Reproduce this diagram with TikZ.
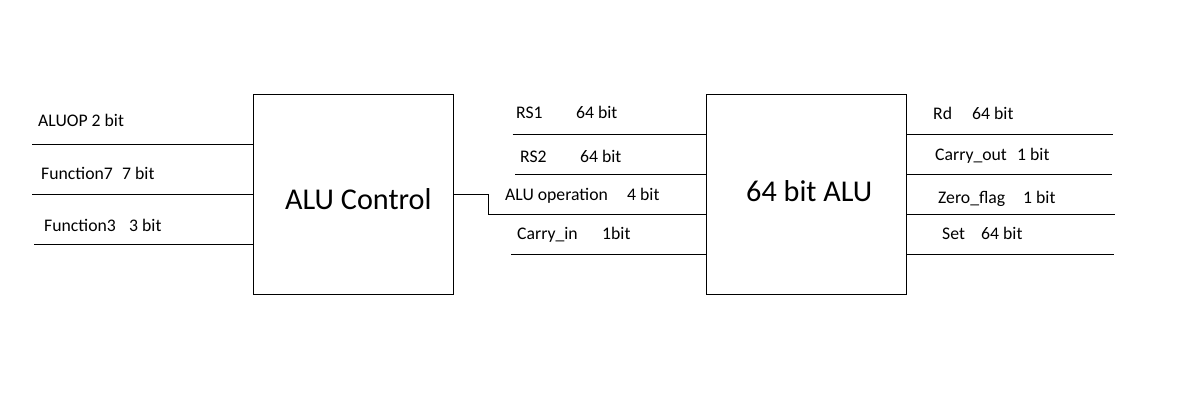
\documentclass[tikz,border=0pt]{standalone}
\usepackage{fontspec}
\setmainfont{Carlito}
\begin{document}
\begin{tikzpicture}[x=1pt,y=-1pt,
  blk/.style={draw,line width=1pt,minimum width=200pt,minimum height=200pt,inner sep=0pt},
  wire/.style={line width=1pt},
  lbl/.style={anchor=west,inner sep=0pt,text height=12pt,text depth=0pt,font=\fontsize{17.7}{19}\selectfont},
  big/.style={inner sep=0pt,text height=19pt,text depth=0pt,font=\fontsize{30.2}{34}\selectfont}]
\useasboundingbox[fill=white] (0,0) rectangle (1179,410);
\node[blk] (ctrl) at (353,194) {};
\node[blk] (alu) at (806.5,194) {};
\node[big,anchor=west] (tctrl) at (285,200) {ALU Control};
\node[big,anchor=west] (talu) at (746,192) {64 bit ALU};
% left inputs
\coordinate (i1) at (32,144.3);
\coordinate (i2) at (32,194.3);
\coordinate (i3) at (34,244.3);
\draw[wire] (i1) -- (ctrl.west |- i1);
\draw[wire] (i2) -- (ctrl.west |- i2);
\draw[wire] (i3) -- (ctrl.west |- i3);
\node[lbl] (l1) at (38,120) {ALUOP 2 bit};
\node[lbl] (l2a) at (41,173) {Function7};
\node[lbl] (l2b) at (122,173) {7 bit};
\node[lbl] (l3a) at (44,225) {Function3};
\node[lbl] (l3b) at (129,225) {3 bit};
% alu inputs
\coordinate (a1) at (512.7,134);
\coordinate (a2) at (515,174.3);
\coordinate (a4) at (511,254);
\coordinate (bend) at (488.3,194.3);
\draw[wire] (a1) -- (alu.west |- a1);
\draw[wire] (a2) -- (alu.west |- a2);
\draw[wire] (ctrl.east |- bend) -- (bend) -- ++(0,20) -- (alu.west |- 0,214.3);
\draw[wire] (a4) -- (alu.west |- a4);
\node[lbl] (r1a) at (516,112) {RS1};
\node[lbl] (r1b) at (576,112) {64 bit};
\node[lbl] (r2a) at (520,156) {RS2};
\node[lbl] (r2b) at (580,156) {64 bit};
\node[lbl] (r3a) at (505,194) {ALU operation};
\node[lbl] (r3b) at (627,194) {4 bit};
\node[lbl] (r4a) at (517,233) {Carry\_in};
\node[lbl] (r4b) at (602,233) {1bit};
% outputs
\coordinate (o1) at (1112.7,134);
\coordinate (o2) at (1112,174.3);
\coordinate (o3) at (1115,214.3);
\coordinate (o4) at (1114,254);
\draw[wire] (alu.east |- o1) -- (o1);
\draw[wire] (alu.east |- o2) -- (o2);
\draw[wire] (alu.east |- o3) -- (o3);
\draw[wire] (alu.east |- o4) -- (o4);
\node[lbl] (q1a) at (933,113) {Rd};
\node[lbl] (q1b) at (972,113) {64 bit};
\node[lbl] (q2a) at (935,154) {Carry\_out};
\node[lbl] (q2b) at (1017,154) {1 bit};
\node[lbl] (q3a) at (938,197) {Zero\_flag};
\node[lbl] (q3b) at (1023,197) {1 bit};
\node[lbl] (q4a) at (942,233) {Set};
\node[lbl] (q4b) at (981,233) {64 bit};
\end{tikzpicture}
\end{document}
